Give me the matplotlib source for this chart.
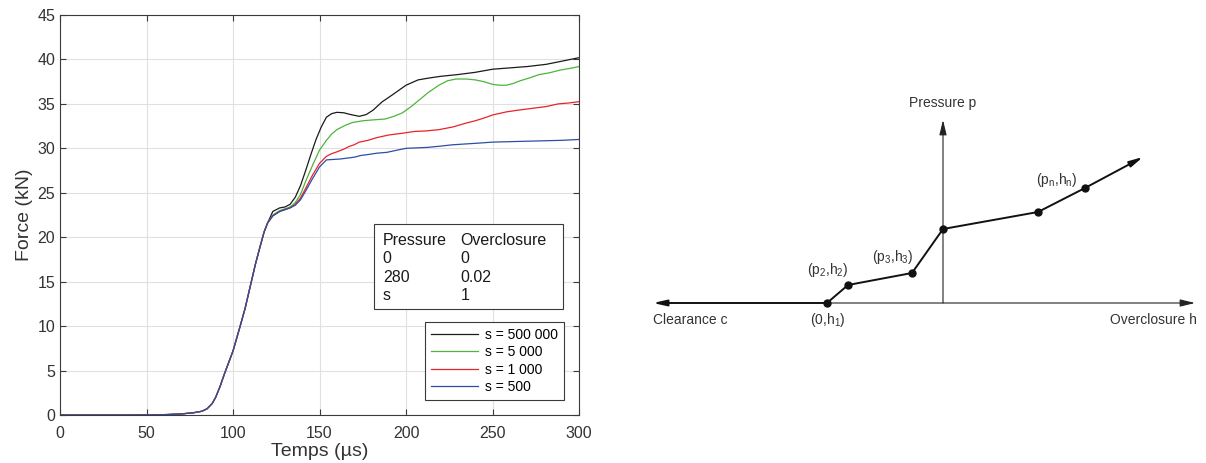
import matplotlib
matplotlib.use("Agg")
import matplotlib.pyplot as plt
from matplotlib.patches import Rectangle

plt.rcParams['font.family'] = ['Liberation Sans', 'DejaVu Sans']
plt.rcParams['mathtext.default'] = 'regular'

# shared rise (all curves overlap up to ~120 us)
t_rise = [0, 20, 40, 55, 62, 70, 77, 82, 85, 88, 90, 92.5, 95, 97.5, 100, 104, 107, 110, 113, 115.6, 118, 120]
f_rise = [0, 0, 0, 0.02, 0.05, 0.12, 0.25, 0.42, 0.7, 1.3, 2.0, 3.2, 4.6, 5.9, 7.2, 9.9, 12.0, 14.5, 17.0, 18.9, 20.6, 21.6]

# s = 500 000
t_500k = [123, 127, 130, 133, 136, 139, 142, 145, 148, 151, 154, 157, 160, 164, 168, 173, 177, 181, 186, 192,
          200, 207, 213, 220, 230, 240, 250, 260, 270, 281, 290, 300]
f_500k = [22.9, 23.3, 23.4, 23.7, 24.5, 25.8, 27.5, 29.3, 31.0, 32.4, 33.5, 33.9, 34.05, 34.0, 33.8, 33.6, 33.8, 34.3,
          35.2, 36.0, 37.1, 37.7, 37.9, 38.1, 38.3, 38.55, 38.9, 39.05, 39.2, 39.45, 39.8, 40.2]

# s = 5 000
t_5k = [123, 127, 130, 133, 136, 139, 142, 146, 150, 154, 157, 160, 165, 169, 175, 181, 188, 193, 198, 203,
        208, 213, 219, 224, 229, 235, 240, 245, 250, 254, 258, 262, 266, 271, 277, 283, 289, 295, 300]
f_5k = [22.5, 23.0, 23.2, 23.4, 23.9, 24.8, 26.3, 28.1, 29.8, 30.9, 31.6, 32.1, 32.6, 32.9, 33.1, 33.2, 33.3, 33.6, 34.0, 34.7,
        35.5, 36.3, 37.1, 37.6, 37.8, 37.8, 37.7, 37.5, 37.2, 37.1, 37.1, 37.3, 37.6, 37.9, 38.3, 38.5, 38.8, 39.0, 39.2]

# s = 1 000
t_1k = [123, 127, 130, 133, 136, 139, 142, 146, 150, 154, 157, 160, 164, 167, 170, 173, 178, 183, 190, 198,
        205, 211, 219, 227, 234, 240, 245, 250, 258, 265, 273, 281, 288, 294, 300]
f_1k = [22.4, 22.9, 23.1, 23.3, 23.7, 24.4, 25.5, 27.0, 28.3, 29.1, 29.4, 29.6, 29.9, 30.2, 30.4, 30.7, 30.9, 31.2, 31.5, 31.7,
        31.9, 31.95, 32.1, 32.4, 32.8, 33.1, 33.4, 33.75, 34.1, 34.3, 34.5, 34.7, 35.0, 35.1, 35.25]

# s = 500
t_500 = [123, 127, 130, 133, 136, 139, 142, 146, 150, 154, 158, 162, 166, 170, 174, 178, 183, 189, 195, 200,
         206, 212, 220, 227, 235, 243, 250, 260, 270, 280, 290, 300]
f_500 = [22.4, 22.9, 23.1, 23.3, 23.6, 24.2, 25.2, 26.6, 27.9, 28.7, 28.75, 28.8, 28.9, 29.0, 29.2, 29.3, 29.45, 29.55, 29.8, 30.0,
         30.05, 30.1, 30.25, 30.4, 30.5, 30.6, 30.7, 30.75, 30.8, 30.85, 30.9, 31.0]

series = [
    ('s = 500 000', t_500k, f_500k, '#1a1a1a'),
    ('s = 5 000', t_5k, f_5k, '#4cb53a'),
    ('s = 1 000', t_1k, f_1k, '#e8222b'),
    ('s = 500', t_500, f_500, '#2b4fa6'),
]

table_rows = [('Pressure', 'Overclosure'), ('0', '0'), ('280', '0.02'), ('s', '1')]

# contact diagram (clearance/overclosure), arbitrary units
diag_h = [-116, -95, -31, 0, 95, 142]
diag_p = [0, 18, 30, 74, 91, 115]
diag_labels = ['(0,h$_1$)', '(p$_2$,h$_2$)', '(p$_3$,h$_3$)', '', '', '(p$_n$,h$_n$)']

fig = plt.figure(figsize=(12.06, 4.63), dpi=100)

# ---------- left: force vs time ----------
ax = fig.add_axes([60/1206, 1-415/463, 519/1206, 400/463])
for name, t, f, c in series:
    ax.plot(t_rise + t, f_rise + f, color=c, lw=0.9, label=name)
ax.set_xlim(0, 300)
ax.set_ylim(0, 45)
ax.set_xticks(range(0, 301, 50))
ax.set_yticks(range(0, 46, 5))
ax.grid(True, color='#e0e0e0', lw=0.8)
ax.set_axisbelow(True)
ax.tick_params(direction='in', top=True, right=True, length=4, width=0.8,
               labelsize=11.5, colors='#3a3a3a', labelcolor='#333333')
ax.tick_params(axis='x', pad=8)
for s in ax.spines.values():
    s.set_color('#3a3a3a')
    s.set_linewidth(0.8)
ax.set_xlabel('Temps (µs)', fontsize=14, color='#333333', labelpad=1)
ax.set_ylabel('Force (kN)', fontsize=14, color='#333333', labelpad=3)

leg = ax.legend(loc='lower right', fontsize=10, handlelength=3.4, labelspacing=0.25,
                fancybox=False, framealpha=1, borderaxespad=1.1, handletextpad=0.5)
leg.get_frame().set_edgecolor('#3a3a3a')
leg.get_frame().set_linewidth(0.8)

ax.add_patch(Rectangle((0.605, 0.265), 0.364, 0.2125, transform=ax.transAxes,
                       facecolor='white', edgecolor='#3a3a3a', lw=0.8, zorder=5))
row_y = [0.425, 0.3788, 0.3325, 0.2863]
for (a, b), y in zip(table_rows, row_y):
    ax.text(0.622, y, a, transform=ax.transAxes, fontsize=11.5, va='baseline', zorder=6, color='#1a1a1a')
    ax.text(0.772, y, b, transform=ax.transAxes, fontsize=11.5, va='baseline', zorder=6, color='#1a1a1a')

# ---------- right: pressure-overclosure diagram ----------
ax2 = fig.add_axes([0, 0, 1, 1])
ax2.set_xlim(-943, 1206-943)
ax2.set_ylim(-(463-303), 303)
ax2.axis('off')

arrow_thin = dict(arrowstyle='-|>,head_length=0.9,head_width=0.22', color='#222222', lw=0.8,
                  shrinkA=0, shrinkB=0)
arrow_thick = dict(arrowstyle='-|>,head_length=0.8,head_width=0.18', color='#111111', lw=1.4,
                   shrinkA=0, shrinkB=0)
# axes of the diagram
ax2.annotate('', xy=(252, 0), xytext=(diag_h[0], 0), arrowprops=arrow_thin)
ax2.annotate('', xy=(0, 183), xytext=(0, 0), arrowprops=arrow_thin)
# clearance branch (zero pressure)
ax2.annotate('', xy=(-290, 0), xytext=(diag_h[0], 0), arrowprops=arrow_thick)
# piecewise curve
ax2.plot(diag_h, diag_p, color='#111111', lw=1.4, marker='o', ms=5, zorder=3)
ax2.annotate('', xy=(200, 146), xytext=(diag_h[-1], diag_p[-1]), arrowprops=arrow_thick)

txt = dict(fontsize=10, color='#333333')
ax2.text(0, 200, 'Pressure p', ha='center', va='center', **txt)
ax2.text(-290, -17, 'Clearance c', ha='left', va='center', **txt)
ax2.text(254, -17, 'Overclosure h', ha='right', va='center', **txt)
ax2.text(diag_h[0] + 1, -17, diag_labels[0], ha='center', va='center', **txt)
ax2.text(diag_h[1] - 20, 33, diag_labels[1], ha='center', va='center', **txt)
ax2.text(diag_h[2] - 19, 46, diag_labels[2], ha='center', va='center', **txt)
ax2.text(diag_h[5] - 28, 123, diag_labels[5], ha='center', va='center', **txt)

fig.savefig('out.png', dpi=100)
